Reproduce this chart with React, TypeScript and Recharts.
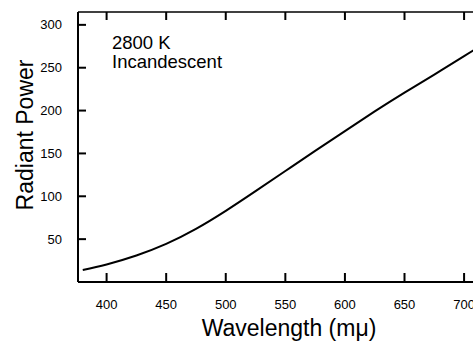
import { LineChart, Line, XAxis, YAxis } from 'recharts';

// values
const wavelengths = [380, 400, 425, 450, 475, 500, 525, 550, 575, 600, 625, 650, 675, 700, 710];
const radiantPower = [14, 20.5, 31, 44.5, 62, 83, 106, 129.5, 153, 176, 199, 221, 242, 263.5, 272];
const xTicks = [400, 450, 500, 550, 600, 650, 700];
const yTicks = [50, 100, 150, 200, 250, 300];

const chartData = wavelengths.map((w, i) => ({ w, p: radiantPower[i] }));

const font = '"Liberation Sans", Arial, Helvetica, sans-serif';
const xDomain: [number, number] = [376, 710];
const yDomain: [number, number] = [0, 315];
const black = { stroke: '#000', strokeWidth: 2 };

// tick-only axes: keep the tick marks, draw no label
const NoLabel = () => <g />;

export default function App() {
  return (
    <div
      style={{
        position: 'absolute',
        left: 0,
        top: 0,
        width: 473,
        height: 343,
        overflow: 'hidden',
        background: '#fff',
        fontFamily: font,
      }}
    >
      <LineChart width={478} height={343} data={chartData} margin={{ top: 12, right: 2, bottom: 0, left: 0 }}>
        <XAxis
          xAxisId="bottom"
          dataKey="w"
          type="number"
          domain={xDomain}
          allowDataOverflow
          ticks={xTicks}
          height={61}
          tickLine={false}
          tickSize={6}
          tickMargin={12}
          axisLine={black}
          tick={{ fill: '#000', fontSize: 13, fontFamily: font }}
          label={{
            value: 'Wavelength (mμ)',
            position: 'insideBottom',
            offset: 7,
            dx: 12,
            fill: '#000',
            fontSize: 23,
            fontFamily: font,
          }}
        />
        <XAxis
          xAxisId="bottomTicks"
          dataKey="w"
          type="number"
          domain={xDomain}
          allowDataOverflow
          ticks={xTicks}
          mirror
          tick={NoLabel}
          axisLine={false}
          tickLine={black}
          tickSize={9}
        />
        <XAxis
          xAxisId="top"
          dataKey="w"
          orientation="top"
          type="number"
          domain={xDomain}
          allowDataOverflow
          ticks={xTicks}
          mirror
          tick={NoLabel}
          axisLine={{ stroke: '#000', strokeWidth: 1.5 }}
          tickLine={black}
          tickSize={8}
        />
        <YAxis
          yAxisId="left"
          type="number"
          domain={yDomain}
          allowDataOverflow
          ticks={yTicks}
          width={78}
          tickLine={false}
          tickSize={6}
          tickMargin={10}
          axisLine={black}
          tick={{ fill: '#000', fontSize: 13, fontFamily: font }}
          label={{
            value: 'Radiant Power',
            angle: -90,
            position: 'center',
            dx: -14,
            dy: -12,
            fill: '#000',
            fontSize: 23,
            fontFamily: font,
          }}
        />
        <YAxis
          yAxisId="leftTicks"
          type="number"
          domain={yDomain}
          allowDataOverflow
          ticks={yTicks}
          mirror
          tick={NoLabel}
          axisLine={false}
          tickLine={black}
          tickSize={8}
        />
        <YAxis
          yAxisId="right"
          orientation="right"
          type="number"
          domain={yDomain}
          allowDataOverflow
          ticks={yTicks}
          mirror
          tick={NoLabel}
          axisLine={black}
          tickLine={black}
          tickSize={3}
        />
        {/* hidden series so the tick-only axes get drawn */}
        <Line
          xAxisId="top"
          yAxisId="leftTicks"
          dataKey="p"
          stroke="none"
          dot={false}
          activeDot={false}
          isAnimationActive={false}
        />
        <Line
          xAxisId="bottomTicks"
          yAxisId="right"
          dataKey="p"
          stroke="none"
          dot={false}
          activeDot={false}
          isAnimationActive={false}
        />
        <Line
          xAxisId="bottom"
          yAxisId="left"
          dataKey="p"
          type="natural"
          stroke="#000"
          strokeWidth={2}
          dot={false}
          activeDot={false}
          isAnimationActive={false}
        />
      </LineChart>
      <div
        style={{
          position: 'absolute',
          left: 112,
          top: 33,
          fontSize: 18.5,
          lineHeight: '19px',
          color: '#000',
        }}
      >
        2800 K
        <br />
        Incandescent
      </div>
    </div>
  );
}
